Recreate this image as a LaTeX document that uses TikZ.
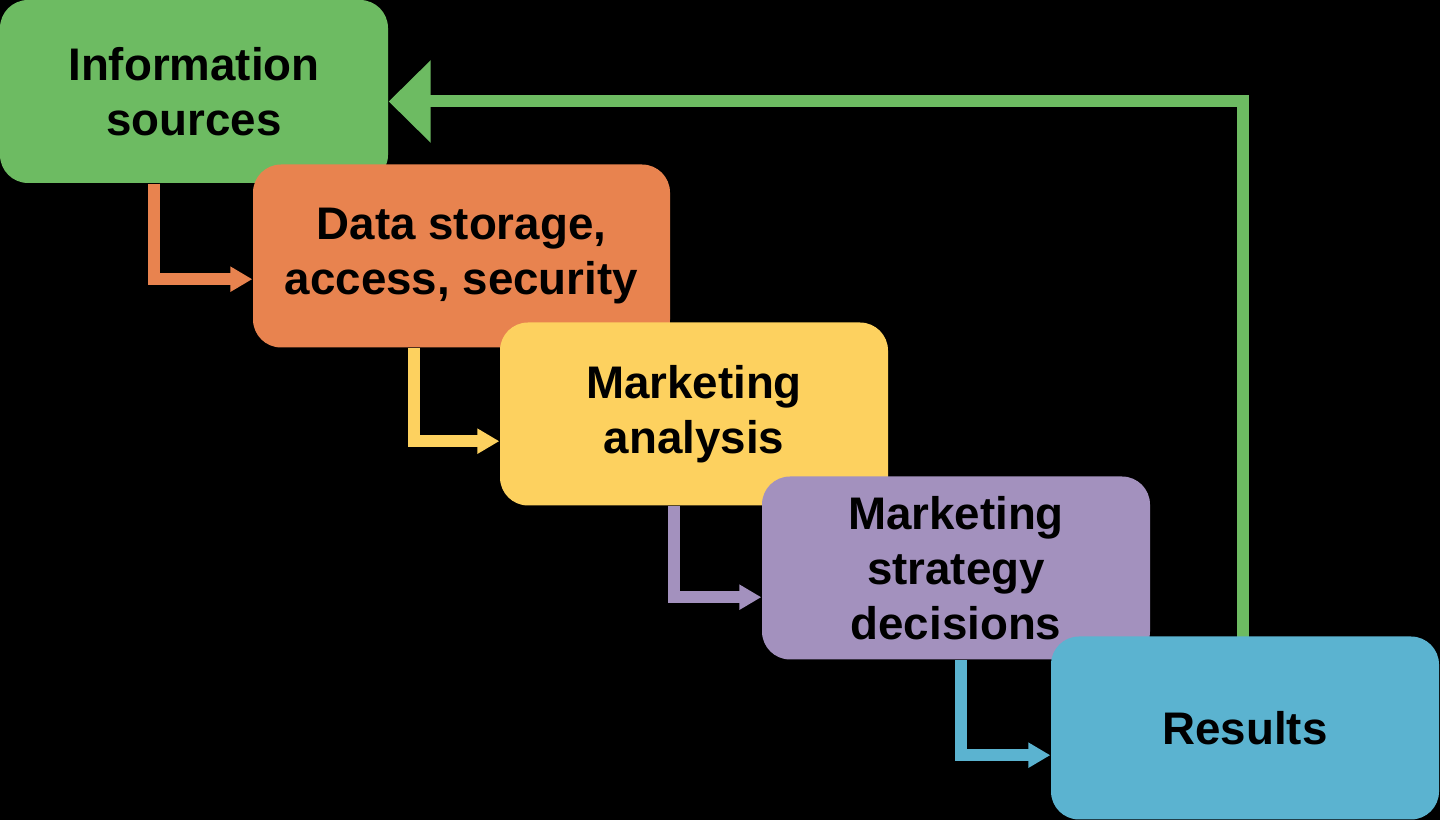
\documentclass[tikz,border=0pt]{standalone}
\usepackage{fontspec}
\setmainfont{Liberation Sans}
\usetikzlibrary{arrows.meta,calc,positioning}
\definecolor{cinfo}{HTML}{6DBB62}
\definecolor{cdata}{HTML}{E8834F}
\definecolor{cana}{HTML}{FDD15F}
\definecolor{cstrat}{HTML}{A391BE}
\definecolor{cres}{HTML}{5BB3D0}
\begin{document}
\begin{tikzpicture}[>={Triangle[length=0.22cm,width=0.24cm]},
		stage/.style={rounded corners=0.28cm,minimum width=3.88cm,minimum height=1.83cm,
			align=center,font=\fontsize{13}{15.6}\selectfont\bfseries,inner sep=0pt},
		flow/.style={line width=0.12cm,->}]
		
		\fill (0,0) rectangle (14.4,8.2);
		\useasboundingbox (0,0) rectangle (14.4,8.2);

		% feedback loop under the boxes
		\node[stage] (res) at (12.45,0.92) {};
		\node[stage] (info) at (1.94,7.285) {};
		\draw[cinfo,line width=0.12cm,-{Triangle[length=0.42cm,width=0.8cm]}]
			($(res.north west)+(1.93,-0.08)$) |- ($(info.east)+(0,-0.1)$);

		\node[stage,fill=cinfo] (info) at (1.94,7.285) {Information\\sources};
		\node[stage,fill=cdata,minimum width=4.17cm] (data) at (4.615,5.64) {Data storage,\\access, security};
		\node[stage,fill=cana] (ana) at (6.94,4.06) {Marketing\\analysis};
		\node[stage,fill=cstrat] (strat) at (9.56,2.52) {Marketing\\strategy\\decisions};
		\node[stage,fill=cres] (res) at (12.45,0.92) {Results};

		\draw[flow,cdata] ($(info.south west)+(1.55,0)$) |- ($(data.south west)+(0,0.69)$);
		\draw[flow,cana] ($(data.south west)+(1.62,0)$) |- ($(ana.south west)+(0,0.65)$);
		\draw[flow,cstrat] ($(ana.south west)+(1.75,0)$) |- ($(strat.south west)+(0,0.63)$);
		\draw[flow,cres] ($(strat.south west)+(2.0,0)$) |- ($(res.south west)+(0,0.65)$);
\end{tikzpicture}
\end{document}
